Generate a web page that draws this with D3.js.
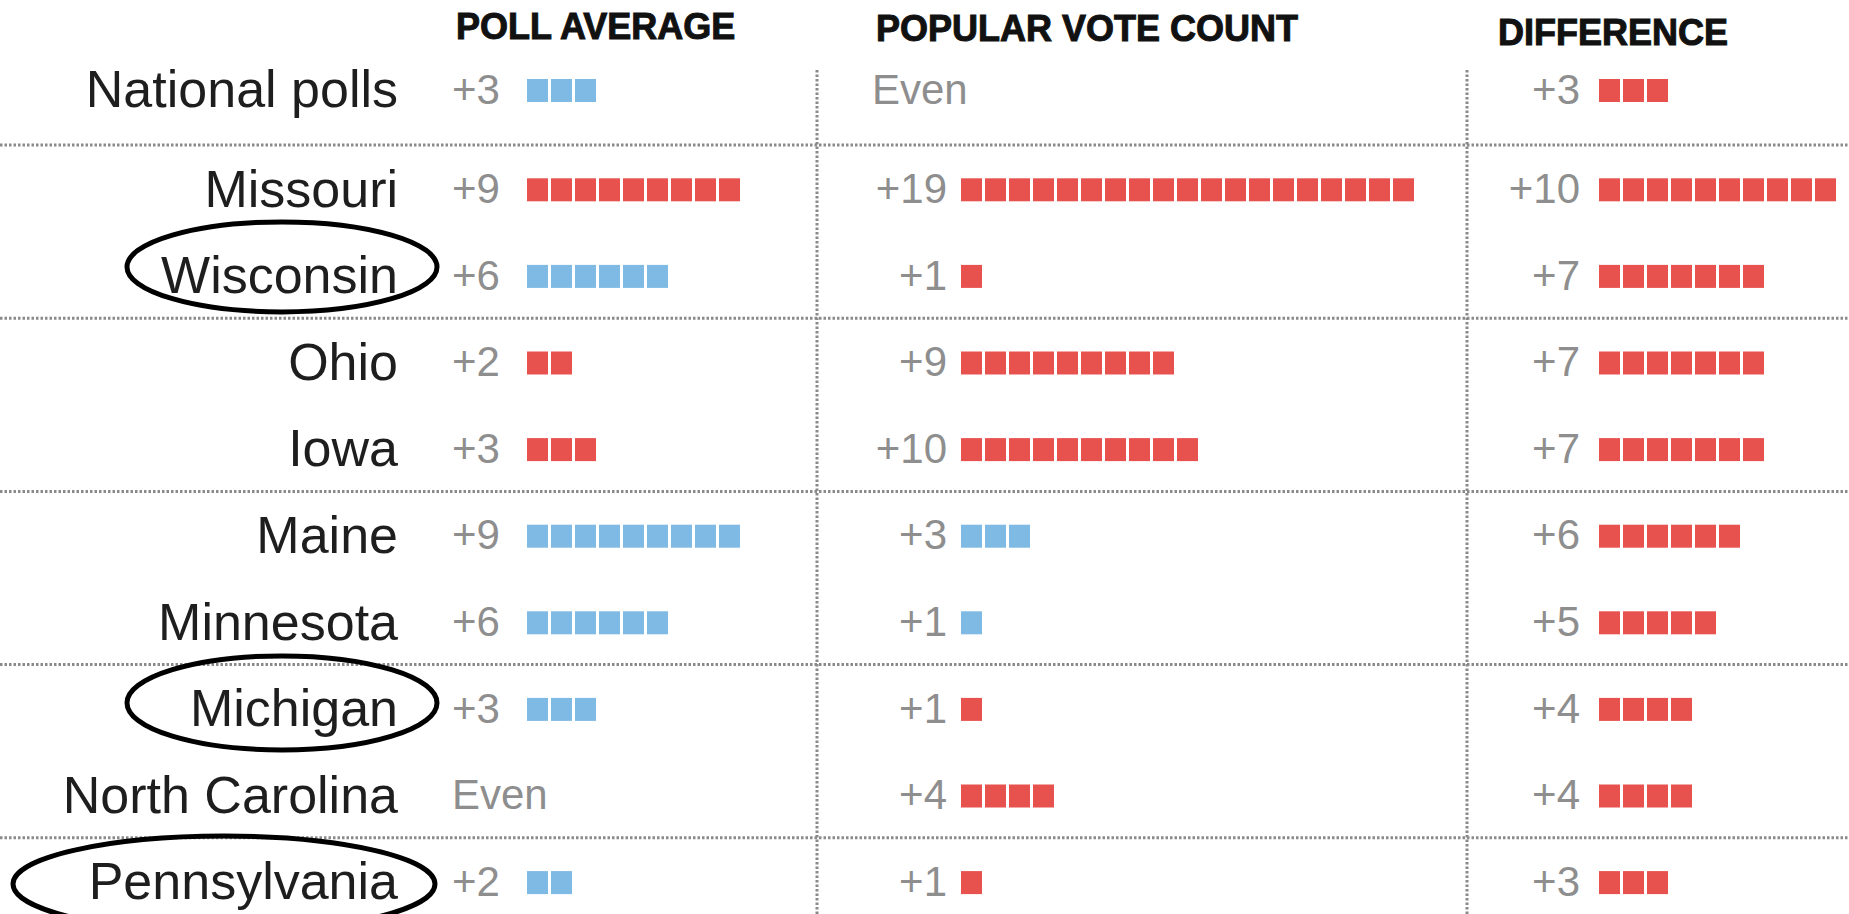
<!DOCTYPE html>
<html>
<head>
<meta charset="utf-8">
<script src="https://cdn.jsdelivr.net/npm/d3@7"></script>
<style>
  body { margin: 0; background: #fff; }
  svg { display: block; }
</style>
</head>
<body>
<svg id="poll-gap-svg"></svg>
<script>
// Inputs
const rowLabels = [
  "National polls", "Missouri", "Wisconsin", "Ohio", "Iowa",
  "Maine", "Minnesota", "Michigan", "North Carolina", "Pennsylvania",
];
const columnTitles = ["POLL AVERAGE", "POPULAR VOTE COUNT", "DIFFERENCE"];

const pollAverage = [3, 9, 6, 2, 3, 9, 6, 3, 0, 2];
const pollLeader = ["D", "R", "D", "R", "R", "D", "D", "D", null, "D"];
const voteCount = [0, 19, 1, 9, 10, 3, 1, 1, 4, 1];
const voteLeader = [null, "R", "R", "R", "R", "D", "D", "R", "R", "R"];
const difference = [3, 10, 7, 7, 7, 6, 5, 4, 4, 3];
const diffLeader = ["R", "R", "R", "R", "R", "R", "R", "R", "R", "R"];

const circledStates = ["Wisconsin", "Michigan", "Pennsylvania"];

const PARTY_COLOR = { R: "#e8524e", D: "#7fbae4" };

const svgWidth = 1849;
const svgHeight = 914;

const svg = d3.select("#poll-gap-svg")
  .attr("width", svgWidth)
  .attr("height", svgHeight);

// Row positions
const stateScale = d3.scaleBand()
  .domain(rowLabels.slice(1))
  .range([145, 145 + 9 * 86.6]);
const rowCenter = (i) =>
  i === 0 ? 89 : stateScale(rowLabels[i]) + stateScale.bandwidth() / 2;

// One unit = one square
const unitScale = d3.scaleLinear().domain([0, 1]).range([0, 24]);

const columns = [
  { title: columnTitles[0], values: pollAverage, leaders: pollLeader,
    titleX: 456, titleY: 39, textX: 452, anchor: "start", evenX: 452, boxX: 527 },
  { title: columnTitles[1], values: voteCount, leaders: voteLeader,
    titleX: 876, titleY: 41, textX: 947, anchor: "end", evenX: 872, boxX: 961 },
  { title: columnTitles[2], values: difference, leaders: diffLeader,
    titleX: 1498, titleY: 45, textX: 1580, anchor: "end", evenX: 1500, boxX: 1599 },
];

// Separator lines (after every pair of states)
const separatorRows = ["Missouri", "Ohio", "Maine", "Michigan", "Pennsylvania"];
svg.selectAll("line.row-sep")
  .data(separatorRows)
  .enter()
  .append("line")
  .classed("row-sep", true)
  .attr("x1", 0)
  .attr("x2", svgWidth)
  .attr("y1", (d) => stateScale(d))
  .attr("y2", (d) => stateScale(d))
  .style("stroke", "#8a8a8a")
  .style("stroke-width", 3)
  .style("stroke-dasharray", "2.5,2");

// Column dividers
svg.selectAll("line.col-sep")
  .data([817, 1467])
  .enter()
  .append("line")
  .classed("col-sep", true)
  .attr("x1", (d) => d)
  .attr("x2", (d) => d)
  .attr("y1", 70)
  .attr("y2", svgHeight)
  .style("stroke", "#8a8a8a")
  .style("stroke-width", 3)
  .style("stroke-dasharray", "2.5,2");

// Column titles
svg.selectAll("text.col-title")
  .data(columns)
  .enter()
  .append("text")
  .classed("col-title", true)
  .attr("x", (d) => d.titleX)
  .attr("y", (d) => d.titleY)
  .text((d) => d.title)
  .style("font-family", "'Liberation Sans', Arial, sans-serif")
  .style("font-weight", "bold")
  .style("font-size", "36px")
  .style("fill", "#111")
  .style("stroke", "#111")
  .style("stroke-width", 1);

// Row labels
svg.selectAll("text.row-label")
  .data(rowLabels)
  .enter()
  .append("text")
  .classed("row-label", true)
  .attr("x", 398)
  .attr("y", (d, i) => rowCenter(i))
  .attr("dy", "0.35em")
  .attr("text-anchor", "end")
  .text((d) => d)
  .style("font-family", "'Liberation Sans', Arial, sans-serif")
  .style("font-size", "52px")
  .style("fill", "#1e1e1e");

// Values and squares
columns.forEach((col, c) => {
  const g = svg.append("g").classed("col-" + c, true);

  g.selectAll("text.value")
    .data(col.values)
    .enter()
    .append("text")
    .classed("value", true)
    .attr("x", (d) => (d === 0 ? col.evenX : col.textX))
    .attr("y", (d, i) => rowCenter(i))
    .attr("dy", "0.35em")
    .attr("text-anchor", (d) => (d === 0 ? "start" : col.anchor))
    .text((d) => (d === 0 ? "Even" : "+" + d))
    .style("font-family", "'Liberation Sans', Arial, sans-serif")
    .style("font-size", "42px")
    .style("fill", "#8e8e8e");

  col.values.forEach((v, i) => {
    g.selectAll("rect.sq-" + i)
      .data(d3.range(v))
      .enter()
      .append("rect")
      .attr("class", "sq-" + i)
      .attr("x", (d) => col.boxX + unitScale(d))
      .attr("y", rowCenter(i) - 10)
      .attr("width", 21)
      .attr("height", 23)
      .style("fill", PARTY_COLOR[col.leaders[i]]);
  });
});

// Hand-drawn style circles around three states
const circleShape = {
  Wisconsin: { cx: 282, dy: -8, rx: 155, ry: 45 },
  Michigan: { cx: 282, dy: -5, rx: 155, ry: 47 },
  Pennsylvania: { cx: 224, dy: 3, rx: 211, ry: 48 },
};
svg.selectAll("ellipse.circled")
  .data(circledStates)
  .enter()
  .append("ellipse")
  .classed("circled", true)
  .attr("cx", (d) => circleShape[d].cx)
  .attr("cy", (d) => rowCenter(rowLabels.indexOf(d)) + circleShape[d].dy)
  .attr("rx", (d) => circleShape[d].rx)
  .attr("ry", (d) => circleShape[d].ry)
  .style("fill", "none")
  .style("stroke", "#000")
  .style("stroke-width", 5);
</script>
</body>
</html>
